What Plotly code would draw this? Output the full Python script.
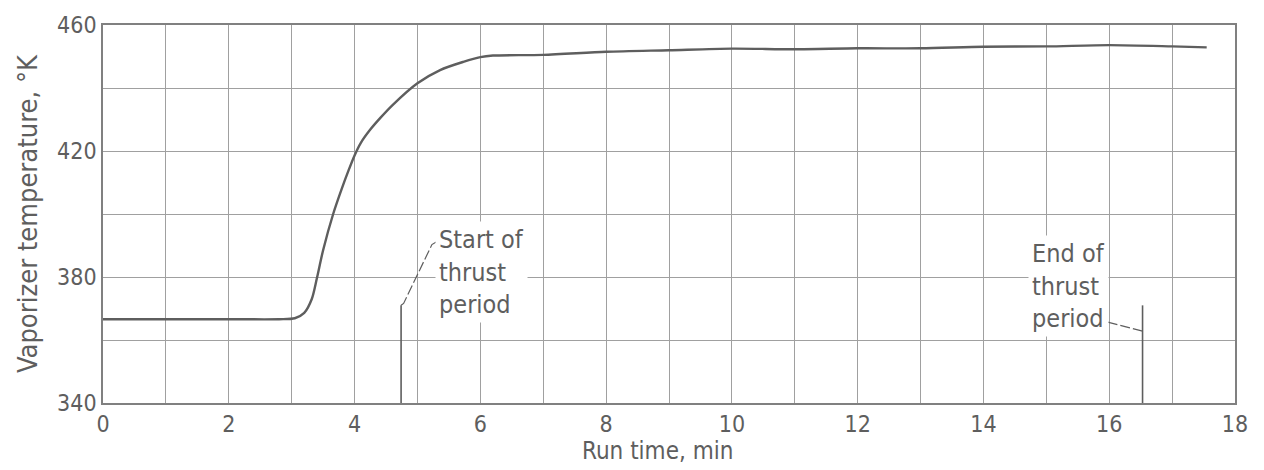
import plotly.graph_objects as go

# Vaporizer temperature history
run_time_min = [0, 1, 2, 2.8, 3.05, 3.2, 3.32, 3.4, 3.5, 3.66, 3.8, 3.9, 4.0,
                4.1, 4.25, 4.41, 4.6, 5.0, 5.36, 5.73, 6.0, 6.2, 7, 8, 9, 10,
                11, 12, 13, 14, 15, 16, 17, 17.55]
temperature_K = [366.6, 366.6, 366.6, 366.6, 366.9, 368.6, 373, 379.5, 388.5,
                 400, 408.2, 413.6, 418.6, 422.6, 426.8, 430.5, 434.5, 441.5,
                 445.7, 448.3, 449.8, 450.3, 450.5, 451.5, 452, 452.5, 452.3,
                 452.6, 452.6, 453.1, 453.2, 453.6, 453.2, 452.9]

# Thrust period markers (min) and their marker height (K)
thrust_start = 4.74
thrust_end = 16.53
marker_top = 371

x_tick_labels = [0, 2, 4, 6, 8, 10, 12, 14, 16, 18]
y_tick_labels = [340, 380, 420, 460]

FONT = "Liberation Sans Narrow, DejaVu Sans Condensed, Arial Narrow, sans-serif"
INK = "#5e5e5e"
GRID = "#a0a0a0"

fig = go.Figure()

fig.add_trace(go.Scatter(
    x=run_time_min, y=temperature_K, mode="lines",
    line=dict(color=INK, width=2.4, shape="spline", smoothing=0.8),
    hoverinfo="skip", showlegend=False,
))

# vertical markers for start / end of thrust
for t in (thrust_start, thrust_end):
    fig.add_trace(go.Scatter(
        x=[t, t], y=[340, marker_top], mode="lines",
        line=dict(color=INK, width=1.6), hoverinfo="skip", showlegend=False,
    ))

# leader lines from labels to markers
fig.add_trace(go.Scatter(
    x=[thrust_start, thrust_start + 0.04, thrust_start + 0.49, thrust_start + 0.59],
    y=[marker_top, marker_top + 0.6, marker_top + 19.3, marker_top + 20.5],
    mode="lines", line=dict(color=INK, width=1.2, dash="10px,3px"),
    hoverinfo="skip", showlegend=False,
))
fig.add_trace(go.Scatter(
    x=[thrust_end, thrust_end - 0.66],
    y=[362.8, 366.2],
    mode="lines", line=dict(color=INK, width=1.2, dash="10px,3px"),
    hoverinfo="skip", showlegend=False,
))

fig.add_annotation(
    x=5.28, y=381.5, xref="x", yref="y", xanchor="left", yanchor="middle",
    text="Start of<br>thrust<br>period", showarrow=False, align="left",
    font=dict(family=FONT, size=25, color=INK), bgcolor="white", borderpad=3,
)
fig.add_annotation(
    x=14.71, y=377.3, xref="x", yref="y", xanchor="left", yanchor="middle",
    text="End of<br>thrust<br>period", showarrow=False, align="left",
    font=dict(family=FONT, size=25, color=INK), bgcolor="white", borderpad=3,
)

# x-axis title
fig.add_annotation(
    x=0.49, y=-0.128, xref="paper", yref="paper", xanchor="center", yanchor="middle",
    text="Run time, min", showarrow=False,
    font=dict(family=FONT, size=24, color=INK),
)

fig.update_layout(
    width=1264, height=470,
    margin=dict(l=103, r=29, t=17, b=67),
    paper_bgcolor="white", plot_bgcolor="white",
    font=dict(family=FONT, size=25, color=INK),
    showlegend=False,
)

fig.update_xaxes(
    range=[0, 18], tickvals=x_tick_labels, ticktext=[str(v) for v in x_tick_labels],
    showgrid=True, gridcolor=GRID, gridwidth=1.2,
    minor=dict(dtick=1, showgrid=True, gridcolor=GRID, gridwidth=1.2),
    showline=True, linecolor="#808080", linewidth=1.6, mirror=True,
    ticks="", zeroline=False, tickfont=dict(family=FONT, size=23, color=INK),
)
fig.update_yaxes(
    range=[340, 460], tickvals=y_tick_labels, ticktext=[str(v) for v in y_tick_labels],
    showgrid=True, gridcolor=GRID, gridwidth=1.2,
    minor=dict(dtick=20, showgrid=True, gridcolor=GRID, gridwidth=1.2),
    showline=True, linecolor="#808080", linewidth=1.6, mirror=True,
    ticks="", zeroline=False, tickfont=dict(family=FONT, size=23, color=INK),
    title=dict(text="Vaporizer temperature, °K", standoff=12,
               font=dict(family=FONT, size=27, color=INK)),
)

fig.write_html("out.html")
